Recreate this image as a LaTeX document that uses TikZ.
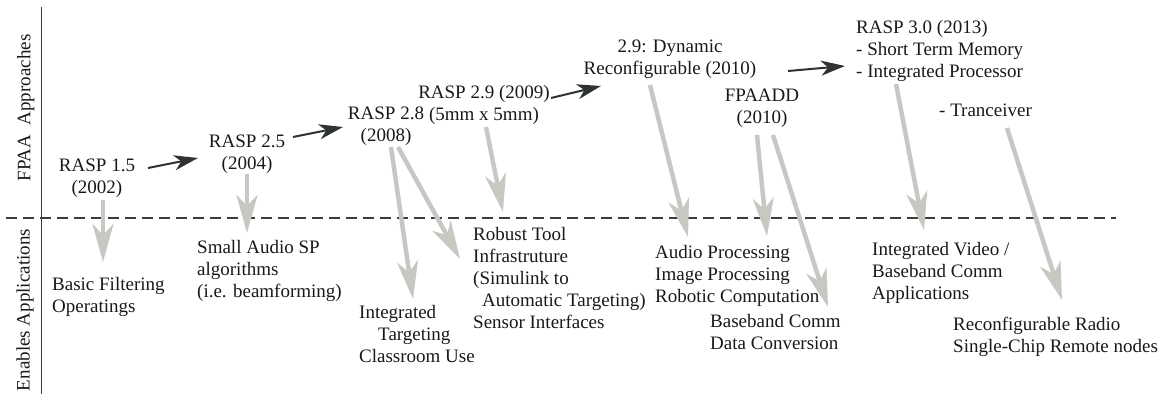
\documentclass[tikz,border=0pt]{standalone}
\usepackage{fontspec}
\setmainfont{Liberation Serif}
\usetikzlibrary{arrows.meta}
\definecolor{linkgray}{HTML}{C9C7C2}
\definecolor{stepdark}{HTML}{2F332F}
\definecolor{rulegray}{HTML}{3C3C3C}
\begin{document}
\begin{tikzpicture}[x=1pt,y=-1pt,
  txt/.style={inner sep=0pt, font=\fontsize{19}{22}\selectfont, text=black!90},
  lft/.style={txt, align=left, anchor=north west},
  ctr/.style={txt, align=center, anchor=north},
  side/.style={txt, rotate=90, anchor=base},
  stepto/.style={draw=stepdark, line width=2pt,
    -{Stealth[length=24pt,width=15pt,inset=7pt]}},
  enables/.style={draw=linkgray, line width=4.5pt,
    -{Stealth[length=38pt,width=21pt,inset=11pt]}},
]
\useasboundingbox (0,0) rectangle (1171,394);

% axis and separator
\coordinate (axtop) at (41.5,7);
\coordinate (axbot) at (41.5,394);
\draw[rulegray, line width=1.5pt] (axtop) -- (axbot);
\coordinate (sepL) at (6,218);
\coordinate (sepR) at (1116,218);
\draw[rulegray, line width=1.8pt, dash pattern=on 10.5pt off 6.5pt] (sepL) -- (sepR);

% side labels
\node[side] (lblA) at (30.5,108) {FPAA\hspace{9.5pt}Approaches};
\node[side] (lblB) at (29.5,310) {Enables Applications};

% FPAA generations
\node[ctr] (r15) at (97,159) {RASP 1.5\\(2002)};
\node[ctr] (r25) at (247,135) {RASP 2.5\\(2004)};
\node[ctr] (r28) at (386,107) {RASP 2.8\\(2008)};
\node[ctr] (r29) at (484,85) {RASP 2.9 (2009)\\(5mm x 5mm)};
\node[ctr] (dyn) at (670,40) {2.9: Dynamic\\Reconfigurable (2010)};
\node[ctr] (fpaadd) at (762,89) {FPAADD\\(2010)};
\node[lft] (r30) at (856,20) {RASP 3.0 (2013)\\ - Short Term Memory\\ - Integrated Processor};
\node[lft] (trx) at (939,104) {- Tranceiver};

% applications
\node[lft] (basic) at (52,277) {Basic Filtering\\Operatings};
\node[lft] (audiosp) at (197,240) {Small Audio SP\\algorithms\\(i.e. beamforming)};
\node[lft] (classrm) at (359,305) {Integrated\\\hspace{19pt}Targeting\\Classroom Use};
\node[lft] (tools) at (473,227) {Robust Tool\\Infrastruture\\(Simulink to\\\hspace{9pt}Automatic Targeting)\\Sensor Interfaces};
\node[lft] (media) at (655,245) {Audio Processing\\Image Processing\\Robotic Computation};
\node[lft] (comm) at (710,314) {Baseband Comm\\Data Conversion};
\node[lft] (video) at (872,242) {Integrated Video /\\Baseband Comm\\Applications};
\node[lft] (radio) at (953,317) {Reconfigurable Radio\\Single-Chip Remote nodes};

% progression between generations
\coordinate (b1s) at (148,168); \coordinate (b1e) at (198,158);
\coordinate (b2s) at (293,137); \coordinate (b2e) at (343,127);
\coordinate (b3s) at (551,98);  \coordinate (b3e) at (601,86);
\coordinate (b4s) at (788,71);  \coordinate (b4e) at (845,66);
\draw[stepto] (b1s) -- (b1e);
\draw[stepto] (b2s) -- (b2e);
\draw[stepto] (b3s) -- (b3e);
\draw[stepto] (b4s) -- (b4e);

% what each generation enables
\coordinate (g1s) at (103,200);  \coordinate (g1e) at (103,262);
\coordinate (g2s) at (247,174);  \coordinate (g2e) at (247,233);
\coordinate (g3s) at (391,147);  \coordinate (g3e) at (413,299);
\coordinate (g4s) at (398,147);  \coordinate (g4e) at (460,259);
\coordinate (g5s) at (486,127);  \coordinate (g5e) at (503,212);
\coordinate (g6s) at (650,85);   \coordinate (g6e) at (688,237);
\coordinate (g7s) at (757,135);  \coordinate (g7e) at (767,236);
\coordinate (g8s) at (773,135);  \coordinate (g8e) at (828,307);
\coordinate (g9s) at (896,84);   \coordinate (g9e) at (924,230);
\coordinate (g10s) at (1007,128); \coordinate (g10e) at (1062,300);
\foreach \k in {1,...,10}{\draw[enables] (g\k s) -- (g\k e);}
\end{tikzpicture}
\end{document}
